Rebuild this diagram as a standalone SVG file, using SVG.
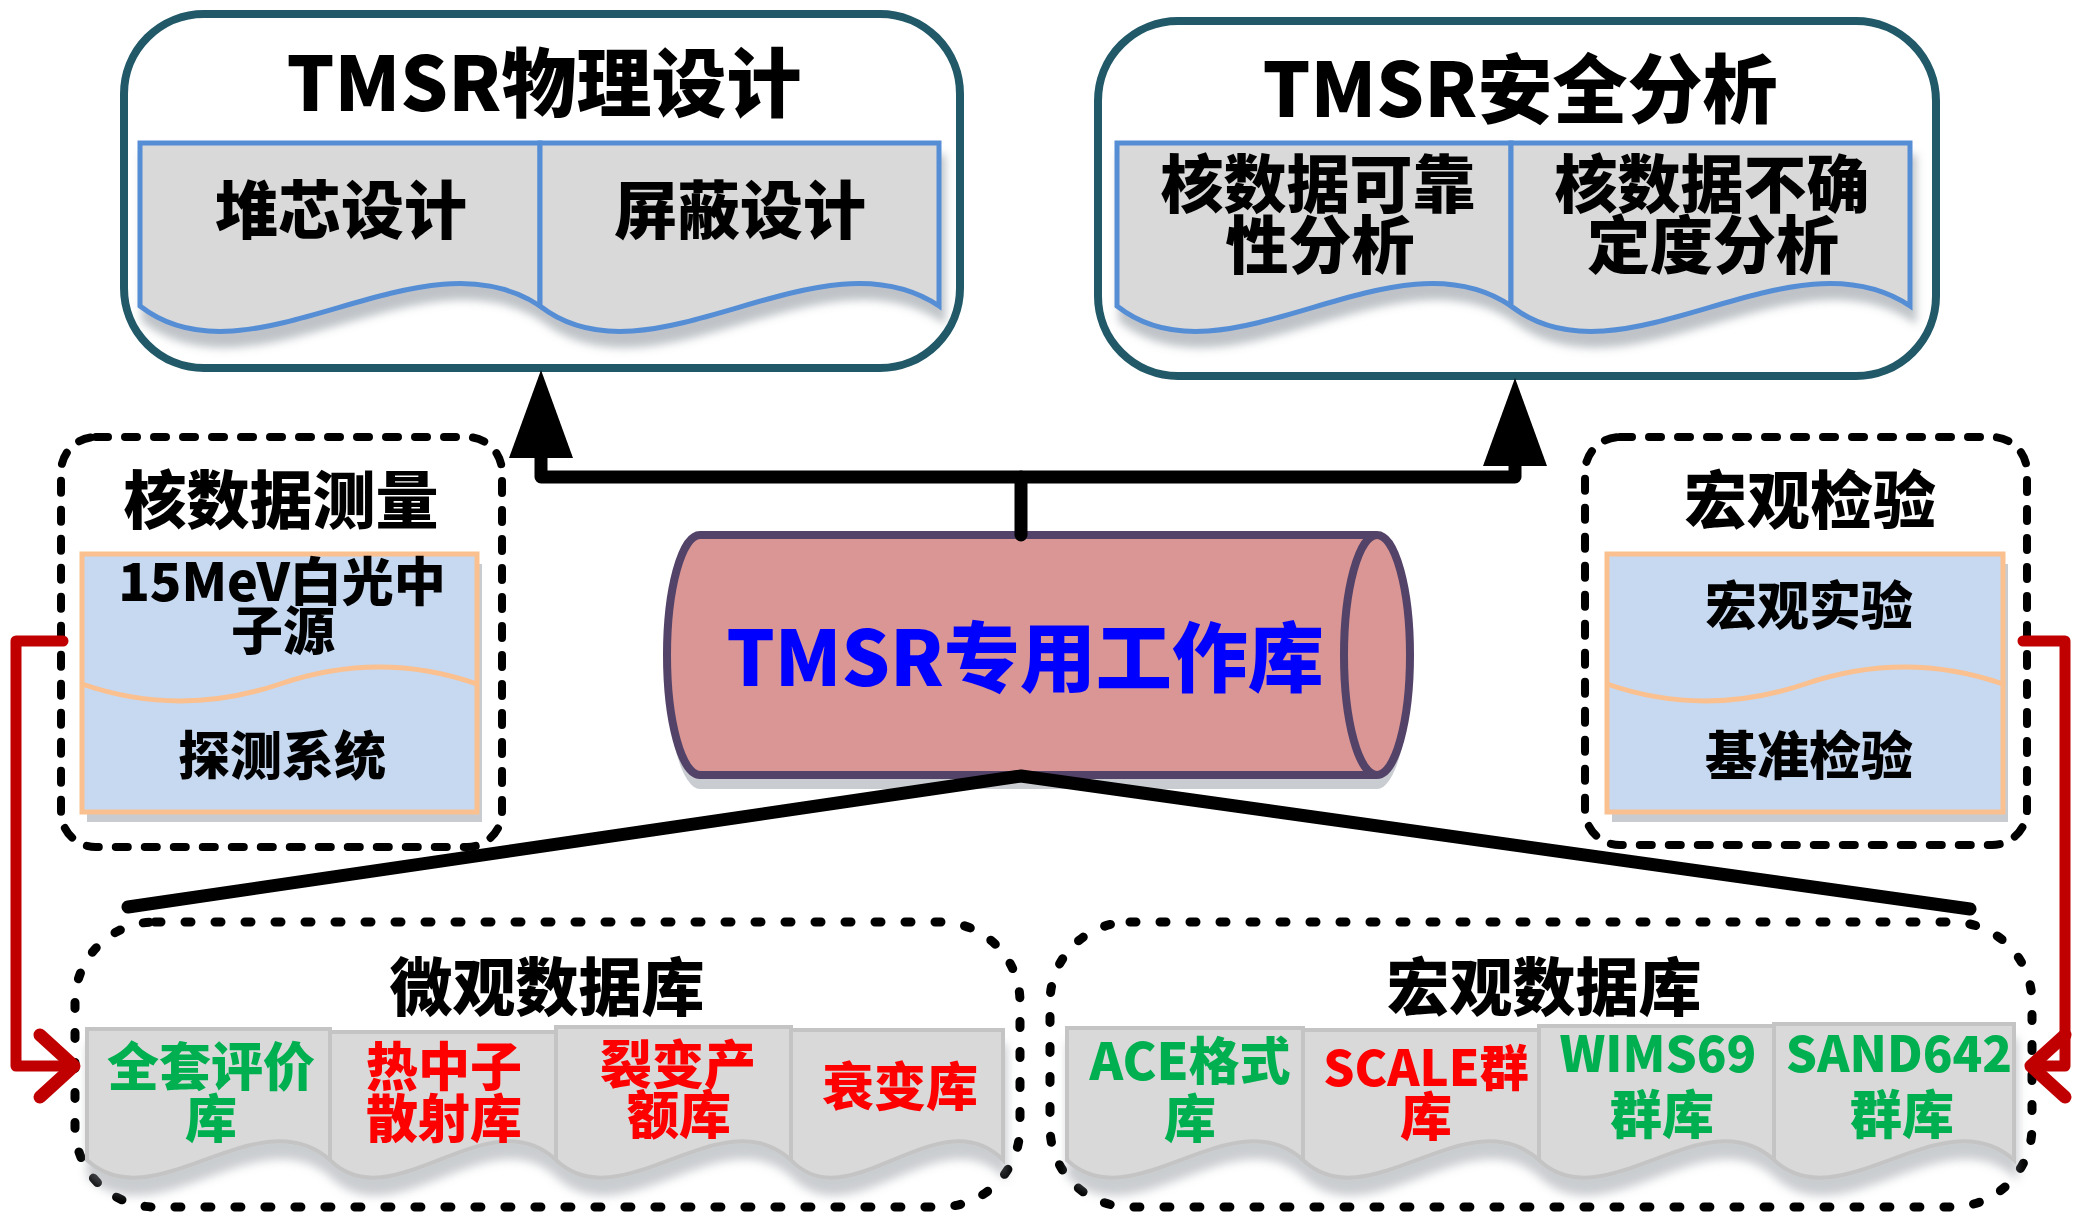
<svg xmlns="http://www.w3.org/2000/svg" width="2074" height="1216" viewBox="0 0 2074 1216">
<style>
.t{font-family:"Noto Sans CJK SC","Noto Sans",sans-serif;font-weight:900;text-anchor:middle;fill:#000}
.f76{font-size:75px}.f63{font-size:63px}.f52{font-size:52px}.f49{font-size:49px}.f78{font-size:76px}
.g{fill:#00B050}.r{fill:#FF0000}.b{fill:#0000FF}
.outer{fill:#fff;stroke:#215968;stroke-width:8}
.docA{fill:#D9D9D9;stroke:#558ED5;stroke-width:5}
.docB{fill:#D9D9D9;stroke:#C4C4C4;stroke-width:4}
.dash1{fill:none;stroke:#000;stroke-width:8;stroke-linecap:round;stroke-dasharray:12 17}
.dash2{fill:none;stroke:#000;stroke-width:9;stroke-linecap:round;stroke-dasharray:6 24}
.blue{fill:#C6D9F1;stroke:#FAC090;stroke-width:5}
.wave{fill:none;stroke:#FAC090;stroke-width:5}
.shd{fill:#C8CCD1}
.blk{fill:none;stroke:#000;stroke-width:13;stroke-linejoin:round;stroke-linecap:round}
.red{fill:none;stroke:#C00000;stroke-width:11;stroke-linejoin:round;stroke-linecap:round}
</style>
<defs>
<filter id="sh1" x="-10%" y="-10%" width="130%" height="150%">
<feGaussianBlur in="SourceAlpha" stdDeviation="4"/>
<feOffset dx="4" dy="14" result="o"/>
<feFlood flood-color="#7F8890" flood-opacity="0.5"/>
<feComposite in2="o" operator="in"/>
<feMerge><feMergeNode/><feMergeNode in="SourceGraphic"/></feMerge>
</filter>
<filter id="sh2" x="-10%" y="-10%" width="130%" height="150%">
<feGaussianBlur in="SourceAlpha" stdDeviation="5"/>
<feOffset dx="2" dy="16" result="o"/>
<feFlood flood-color="#8A9098" flood-opacity="0.45"/>
<feComposite in2="o" operator="in"/>
<feMerge><feMergeNode/><feMergeNode in="SourceGraphic"/></feMerge>
</filter>
<marker id="ah" viewBox="0 0 88 64" refX="0" refY="32" markerWidth="88" markerHeight="64" markerUnits="userSpaceOnUse" orient="auto"><path d="M0,0 L88,32 L0,64 Z" fill="#000"/></marker>
<marker id="chev" viewBox="0 0 40 64" refX="34" refY="32" markerWidth="40" markerHeight="64" markerUnits="userSpaceOnUse" orient="auto" style="overflow:visible"><path d="M2,1 L36,32 L2,63" fill="none" stroke="#C00000" stroke-width="13" stroke-linecap="round" stroke-linejoin="round"/></marker>
</defs>
<rect width="2074" height="1216" fill="#fff"/>

<g id="node-physics">
<rect class="outer" x="124" y="14" width="836" height="354" rx="80"/>
<text class="t f76" x="544" y="111">TMSR物理设计</text>
<g filter="url(#sh1)">
<path class="docA" d="M140,143 H540 V306 C420,226 250,392 140,306 Z"/>
<path class="docA" d="M540,143 H939 V306 C819,226 650,392 540,306 Z"/>
</g>
<text class="t f63" x="341" y="233">堆芯设计</text>
<text class="t f63" x="740" y="233">屏蔽设计</text>
</g>

<g id="node-safety">
<rect class="outer" x="1098" y="21" width="838" height="355" rx="80"/>
<text class="t f76" x="1520" y="117">TMSR安全分析</text>
<g filter="url(#sh1)">
<path class="docA" d="M1117,143 H1511 V306 C1393,226 1225,392 1117,306 Z"/>
<path class="docA" d="M1511,143 H1910 V306 C1790,226 1621,392 1511,306 Z"/>
</g>
<text class="t f63" x="1318" y="207">核数据可靠<tspan x="1320" y="268">性分析</tspan></text>
<text class="t f63" x="1712" y="207">核数据不确<tspan x="1713" y="268">定度分析</tspan></text>
</g>

<g id="node-measure">
<rect class="dash1" x="61" y="437" width="441" height="410" rx="35"/>
<text class="t f63" x="281" y="523">核数据测量</text>
<rect class="shd" x="87" y="564" width="395" height="258"/>
<rect class="blue" x="82" y="554" width="395" height="258"/>
<path class="wave" d="M82,684 Q180,718 280,684 T477,684"/>
<text class="t f52" x="282" y="601">15MeV白光中<tspan x="283" y="650">子源</tspan></text>
<text class="t f52" x="282" y="775">探测系统</text>
</g>

<g id="node-verify">
<rect class="dash1" x="1585" y="437" width="442" height="408" rx="35"/>
<text class="t f63" x="1810" y="523">宏观检验</text>
<rect class="shd" x="1612" y="564" width="396" height="258"/>
<rect class="blue" x="1607" y="554" width="396" height="258"/>
<path class="wave" d="M1607,684 Q1705,718 1805,684 T2003,684"/>
<text class="t f52" x="1809" y="625">宏观实验</text>
<text class="t f52" x="1809" y="775">基准检验</text>
</g>

<g id="node-workdb">
<path d="M700,549 L1377,549 A33,120 0 0 1 1377,789 L700,789 A33,120 0 0 1 700,549 Z" fill="#C9CCD0"/>
<path d="M700,535 L1377,535 A33,120 0 0 1 1377,775 L700,775 A33,120 0 0 1 700,535 Z" fill="#D99694" stroke="#544369" stroke-width="8" stroke-linejoin="round"/>
<path d="M1377,535 A33,120 0 0 0 1377,775" fill="none" stroke="#544369" stroke-width="8"/>
<text class="t f78 b" x="1025" y="686">TMSR专用工作库</text>
</g>

<g id="node-microdb">
<rect class="dash2" x="75" y="922" width="945" height="285" rx="80"/>
<text class="t f63" x="547" y="1010">微观数据库</text>
<g filter="url(#sh2)">
<path class="docB" d="M87,1029 H330 V1160 C257,1096 154,1222 87,1160 Z"/>
<path class="docB" d="M330,1032 H556 V1160 C488,1096 392,1222 330,1160 Z"/>
<path class="docB" d="M556,1027 H791 V1160 C721,1096 621,1222 556,1160 Z"/>
<path class="docB" d="M791,1030 H1003 V1160 C939,1096 849,1222 791,1160 Z"/>
</g>
<text class="t f52 g" x="211" y="1086">全套评价<tspan x="211" y="1138">库</tspan></text>
<text class="t f52 r" x="444" y="1086">热中子<tspan x="444" y="1138">散射库</tspan></text>
<text class="t f52 r" x="678" y="1084">裂变产<tspan x="679" y="1134">额库</tspan></text>
<text class="t f52 r" x="900" y="1106">衰变库</text>
</g>

<g id="node-macrodb">
<rect class="dash2" x="1050" y="922" width="982" height="285" rx="80"/>
<text class="t f63" x="1544" y="1010">宏观数据库</text>
<g filter="url(#sh2)">
<path class="docB" d="M1067,1028 H1303 V1160 C1232,1096 1132,1222 1067,1160 Z"/>
<path class="docB" d="M1303,1030 H1539 V1160 C1468,1096 1368,1222 1303,1160 Z"/>
<path class="docB" d="M1539,1026 H1774 V1160 C1704,1096 1604,1222 1539,1160 Z"/>
<path class="docB" d="M1774,1024 H2014 V1160 C1942,1096 1840,1222 1774,1160 Z"/>
</g>
<text class="t f52 g" x="1190" y="1080" style="font-size:51px">ACE格式<tspan x="1190" y="1138" style="font-size:52px">库</tspan></text>
<text class="t f49 r" x="1426" y="1086">SCALE群<tspan x="1426" y="1136" style="font-size:52px">库</tspan></text>
<text class="t f49 g" x="1658" y="1072">WIMS69<tspan x="1662" y="1134" style="font-size:52px">群库</tspan></text>
<text class="t f49 g" x="1899" y="1072">SAND642<tspan x="1902" y="1134" style="font-size:52px">群库</tspan></text>
</g>

<g id="connectors">
<path class="blk" style="stroke-linecap:butt" d="M1021,477 H541 V458" marker-end="url(#ah)"/>
<path class="blk" style="stroke-linecap:butt" d="M1021,477 H1515 V466" marker-end="url(#ah)"/>
<path class="blk" d="M1021,477 V535"/>
<path class="blk" d="M128,907 L1021,776 L1970,909"/>
<path class="red" d="M63,641 H16 V1066 H72" marker-end="url(#chev)"/>
<path class="red" d="M2023,641 H2065 V1066 H2033" marker-end="url(#chev)"/>
</g>
</svg>
